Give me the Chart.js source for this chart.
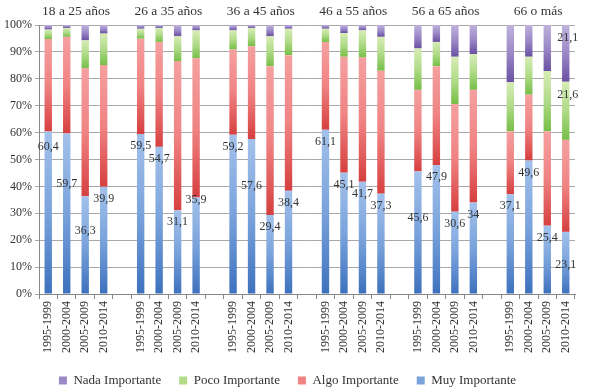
<!DOCTYPE html>
<html>
<head>
<meta charset="utf-8">
<script src="https://cdn.jsdelivr.net/npm/chart.js@4.4.0/dist/chart.umd.min.js"></script>
<style>
  html, body { margin: 0; padding: 0; background: #fff; }
  #wrap { width: 590px; height: 389px; }
</style>
</head>
<body>
<div id="wrap"><canvas id="grafico"></canvas></div>
<script>
// grupos de edad y periodos
var grupos = ["18 a 25 años", "26 a 35 años", "36 a 45 años", "46 a 55 años", "56 a 65 años", "66 o más"];
var periodos = ["1995-1999", "2000-2004", "2005-2009", "2010-2014"];

// porcentajes por grupo (4 periodos cada uno)
var muy  = [60.4, 59.7, 36.3, 39.9,  59.5, 54.7, 31.1, 35.9,  59.2, 57.6, 29.4, 38.4,
            61.1, 45.1, 41.7, 37.3,  45.6, 47.9, 30.6, 34.0,  37.1, 49.6, 25.4, 23.1];
var algo = [34.4, 35.9, 47.6, 45.2,  35.4, 39.0, 55.5, 51.7,  31.7, 34.5, 55.3, 50.4,
            32.6, 43.1, 46.2, 45.7,  30.3, 36.8, 40.0, 41.9,  23.4, 24.5, 35.1, 34.2];
var poco = [3.5, 3.3, 10.4, 11.7,    3.7, 5.2, 9.2, 10.4,     7.1, 6.8, 11.1, 9.8,
            4.9, 8.8, 10.1, 12.6,    15.4, 9.0, 17.6, 13.3,   18.2, 14.1, 22.4, 21.6];
var nada = [1.7, 1.1, 5.7, 3.2,      1.4, 1.1, 4.2, 2.0,      2.0, 1.1, 4.2, 1.4,
            1.4, 3.0, 2.0, 4.4,      8.7, 6.3, 11.8, 10.8,    21.3, 11.8, 17.1, 21.1];

// barras donde tambien se rotulan "poco" y "nada"
var rotulosExtra = [23];

// rotulos movidos a mano en el original (px extra hacia abajo)
var bajarRotulo = { 0: 3, 1: 38, 2: 22, 7: -10, 9: 35, 16: 35, 23: 21 };

// categorias con hueco entre grupos
var labels = [];
var posicion = []; // indice de dato -> indice de categoria
for (var g = 0; g < grupos.length; g++) {
  for (var p = 0; p < periodos.length; p++) {
    posicion.push(labels.length);
    labels.push(periodos[p]);
  }
  if (g < grupos.length - 1) labels.push("");
}

function expandir(arr) {
  var out = labels.map(function () { return null; });
  for (var i = 0; i < arr.length; i++) out[posicion[i]] = arr[i];
  return out;
}

var series = [expandir(muy), expandir(algo), expandir(poco), expandir(nada)];

var tonos = [
  ["#a3c1eb", "#7aa3dc", "#3d71bd"],
  ["#f5a0a0", "#f08383", "#d63f3f"],
  ["#d7ecb6", "#b0db88", "#76be48"],
  ["#bfb2dc", "#9b88c7", "#6a50a2"]
];

function degradado(ctx) {
  var ds = ctx.datasetIndex;
  var chart = ctx.chart;
  if (!chart.chartArea || ctx.type !== "data") return tonos[ds][1];
  var i = ctx.dataIndex;
  var v = series[ds][i];
  if (v == null) return tonos[ds][1];
  var base = 0;
  for (var k = 0; k < ds; k++) base += series[k][i] || 0;
  var y = chart.scales.y;
  var arriba = y.getPixelForValue(base + v);
  var abajo = y.getPixelForValue(base);
  var grad = chart.ctx.createLinearGradient(0, arriba, 0, abajo);
  grad.addColorStop(0, tonos[ds][0]);
  grad.addColorStop(0.5, tonos[ds][1]);
  grad.addColorStop(1, tonos[ds][2]);
  return grad;
}

function coma(v) {
  return String(v).replace(".", ",");
}

// rotulos de valores y titulos de grupo
var rotulos = {
  id: "rotulos",
  afterDatasetsDraw: function (chart) {
    var c = chart.ctx;
    var x = chart.scales.x, y = chart.scales.y;
    c.save();
    c.fillStyle = "#333";
    c.font = "12px 'Liberation Serif'";
    c.textAlign = "center";
    c.textBaseline = "middle";
    for (var i = 0; i < muy.length; i++) {
      var px = x.getPixelForValue(posicion[i]);
      var extra = bajarRotulo[i] || 0;
      c.fillText(coma(muy[i]), px, y.getPixelForValue(muy[i]) + 12 + extra);
      if (rotulosExtra.indexOf(i) >= 0) {
        var b = muy[i] + algo[i];
        c.fillText(coma(poco[i]), px + 2, y.getPixelForValue(b + poco[i]) + 13);
        c.fillText(coma(nada[i]), px + 2, y.getPixelForValue(b + poco[i] + nada[i]) + 13);
      }
    }
    c.font = "13.5px 'Liberation Serif'";
    for (var g = 0; g < grupos.length; g++) {
      var a = x.getPixelForValue(posicion[g * 4]);
      var z = x.getPixelForValue(posicion[g * 4 + 3]);
      c.fillText(grupos[g], (a + z) / 2, 11);
    }
    c.restore();
  }
};

var nombres = ["Muy Importante", "Algo Importante", "Poco Importante", "Nada Importante"];

var ctx0 = document.getElementById("grafico");
var myChart = new Chart(ctx0, {
  type: "bar",
  data: {
    labels: labels,
    datasets: series.map(function (d, k) {
      return {
        label: nombres[k],
        data: d,
        backgroundColor: degradado,
        barPercentage: 0.4,
        categoryPercentage: 1.0
      };
    })
  },
  options: {
    responsive: true,
    maintainAspectRatio: false,
    animation: false,
    layout: { padding: { top: 25, right: 15, left: 0, bottom: -8 } },
    plugins: {
      tooltip: { enabled: false },
      legend: {
        position: "bottom",
        reverse: true,
        labels: {
          boxWidth: 8,
          boxHeight: 8,
          padding: 18,
          color: "#333",
          font: { family: "Liberation Serif", size: 13 },
          generateLabels: function (chart) {
            var items = Chart.defaults.plugins.legend.labels.generateLabels(chart);
            items.forEach(function (it) {
              it.fillStyle = tonos[it.datasetIndex][1];
              it.strokeStyle = tonos[it.datasetIndex][1];
              it.lineWidth = 0;
            });
            return items;
          }
        }
      }
    },
    scales: {
      x: {
        stacked: true,
        grid: { drawOnChartArea: false, drawTicks: true, tickLength: 5, color: "#888" },
        border: { color: "#888" },
        ticks: {
          autoSkip: false,
          maxRotation: 90,
          minRotation: 90,
          padding: 2,
          color: "#333",
          font: { family: "Liberation Serif", size: 12 }
        },
        afterFit: function (s) { s.height = 62; }
      },
      y: {
        stacked: true,
        min: 0,
        max: 100,
        grid: { color: "#a8a8a8", tickLength: 4 },
        border: { color: "#888" },
        ticks: {
          stepSize: 10,
          padding: 3,
          color: "#333",
          font: { family: "Liberation Serif", size: 12 },
          callback: function (v) { return v + "%"; }
        },
        afterFit: function (s) { s.width = 39; }
      }
    }
  },
  plugins: [rotulos]
});
</script>
</body>
</html>
